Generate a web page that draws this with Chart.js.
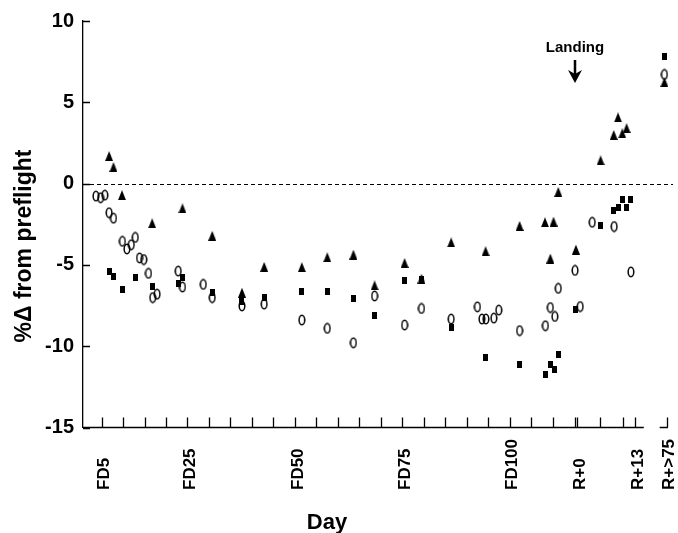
<!DOCTYPE html>
<html><head><meta charset="utf-8">
<script src="https://cdn.jsdelivr.net/npm/chart.js@4.4.0/dist/chart.umd.min.js"></script>
<style>html,body{margin:0;padding:0;background:#fff;}#wrap{width:678px;height:533px;}</style>
</head><body><div id="wrap"><canvas id="c" width="678" height="533"></canvas></div>
<script>
// ---- data (x = mission day on a continuous day axis; y = % change from preflight) ----
const triDays = [6.75,7.77,9.75,16.77,23.83,30.76,37.68,42.85,51.62,57.53,63.62,68.54,75.53,79.45,86.37,94.38,102.3,108.2,110.2,109.45,111.3,115.4,121.15,124.2,125.2,126.2,127.2,136.0];
const triVals = [1.69,1.02,-0.71,-2.44,-1.52,-3.21,-6.71,-5.12,-5.14,-4.53,-4.37,-6.26,-4.88,-5.85,-3.62,-4.16,-2.60,-2.38,-2.34,-4.61,-0.51,-4.06,1.43,2.99,4.07,3.09,3.41,6.24];
const circDays = [3.69,4.77,5.76,6.75,7.77,9.85,10.9,11.92,12.85,13.84,14.83,15.92,16.91,17.92,22.84,23.83,28.68,30.76,37.68,42.85,51.62,57.53,63.62,68.54,75.53,79.45,86.37,92.47,93.53,94.45,96.3,97.45,102.3,108.3,109.45,110.5,111.3,115.2,116.4,119.2,124.3,128.2,136.0];
const circVals = [-0.77,-0.87,-0.71,-1.79,-2.13,-3.55,-4.02,-3.76,-3.31,-4.57,-4.67,-5.52,-7.01,-6.80,-5.38,-6.36,-6.20,-7.01,-7.52,-7.41,-8.39,-8.90,-9.79,-6.91,-8.70,-7.68,-8.33,-7.58,-8.33,-8.33,-8.27,-7.78,-9.04,-8.74,-7.62,-8.17,-6.44,-5.34,-7.56,-2.38,-2.64,-5.43,6.71];
const sqDays = [6.75,7.77,9.85,12.85,16.77,22.84,23.83,30.76,37.68,42.85,51.62,57.53,63.62,68.54,75.53,79.45,86.37,94.45,102.3,108.3,109.45,110.4,111.4,115.4,121.15,124.2,125.2,127.2,126.2,128.1,136.0];
const sqVals = [-5.38,-5.69,-6.50,-5.79,-6.30,-6.16,-5.79,-6.71,-7.26,-7.01,-6.66,-6.66,-7.07,-8.13,-5.99,-5.87,-8.84,-10.67,-11.12,-11.73,-11.12,-11.44,-10.52,-7.74,-2.58,-1.66,-1.46,-1.46,-0.95,-0.95,7.79];
const tickDays = [5,10,15,20,25,30,35,40,45,50,55,60,65,70,75,80,85,90,95,100,105,110,115.2,115.7,121.1,126.3,129.2,136.5];
const labelDays = [5,25,50,75,100,115.7,129.2,136.5];
const labelTexts = ['FD5','FD25','FD50','FD75','FD100','R+0','R+13','R+>75'];
const yTickVals = [-15,-10,-5,0,5,10];
const landingDay = 115.1;
const axisBreakFrom = 131.2, axisBreakTo = 134.9, axisEndDay = 136.8;

const FONT = '"Liberation Sans", Arial, sans-serif';

function mk(w,h,draw){const c=document.createElement('canvas');c.width=w;c.height=h;draw(c.getContext('2d'));return c;}
const triImg = mk(8,10,g=>{g.fillStyle='#000';g.beginPath();g.moveTo(4,0);g.lineTo(8,10);g.lineTo(0,10);g.closePath();g.fill();});
const circImg = mk(8,12,g=>{g.strokeStyle='#000';g.lineWidth=1.5;g.beginPath();g.ellipse(4,6,2.8,4.7,0,0,2*Math.PI);g.stroke();});
const sqImg = mk(5,7,g=>{g.fillStyle='#000';g.fillRect(0,0,5,7);});

const pts = (d,v)=>d.map((x,i)=>({x:x,y:v[i]}));

const decor = {
  id:'decor',
  beforeDatasetsDraw(chart){
    const {ctx, chartArea:a, scales:{y}} = chart;
    const py = Math.round(y.getPixelForValue(0))+0.5;
    ctx.save(); ctx.strokeStyle='#000'; ctx.lineWidth=1; ctx.setLineDash([4,3]);
    ctx.beginPath(); ctx.moveTo(a.left,py); ctx.lineTo(a.right,py); ctx.stroke(); ctx.restore();
  },
  afterDraw(chart){
    const {ctx, chartArea:a, scales:{x,y}} = chart;
    const by = y.getPixelForValue(-15);
    ctx.save();
    ctx.strokeStyle='#000'; ctx.lineWidth=1.3;
    ctx.beginPath();
    ctx.moveTo(a.left, by); ctx.lineTo(x.getPixelForValue(axisBreakFrom), by);
    ctx.moveTo(x.getPixelForValue(axisBreakTo), by); ctx.lineTo(x.getPixelForValue(axisEndDay), by);
    tickDays.forEach(d=>{const px=Math.round(x.getPixelForValue(d))+0.5; ctx.moveTo(px,by); ctx.lineTo(px,by-10);});
    // inward y ticks
    yTickVals.forEach(v=>{const py=Math.round(y.getPixelForValue(v))+0.5; ctx.moveTo(a.left,py); ctx.lineTo(a.left+7,py);});
    ctx.stroke();
    // rotated tick labels
    ctx.fillStyle='#000';
    ctx.font='bold 17px '+FONT;
    ctx.textAlign='left'; ctx.textBaseline='middle';
    labelDays.forEach((d,i)=>{
      ctx.save(); ctx.translate(x.getPixelForValue(d)+3, 490); ctx.rotate(-Math.PI/2);
      ctx.fillText(labelTexts[i],0,0); ctx.restore();
    });
    // axis titles
    ctx.font='bold 22px '+FONT; ctx.textAlign='center'; ctx.textBaseline='middle';
    ctx.fillText('Day', 327, 523);
    ctx.font='bold 23px '+FONT;
    ctx.save(); ctx.translate(25, 246); ctx.rotate(-Math.PI/2);
    ctx.fillText('%\u0394 from preflight',0,0); ctx.restore();
    // landing annotation
    const lx = Math.round(x.getPixelForValue(landingDay));
    ctx.font='bold 15px '+FONT; ctx.textBaseline='middle';
    ctx.fillText('Landing', lx, 48);
    ctx.lineWidth=2.5;
    ctx.beginPath(); ctx.moveTo(lx,60); ctx.lineTo(lx,74); ctx.stroke();
    ctx.beginPath(); ctx.moveTo(lx-7,70); ctx.lineTo(lx,83); ctx.lineTo(lx+7,70); ctx.lineTo(lx,74); ctx.closePath(); ctx.fill();
    ctx.restore();
  }
};

new Chart(document.getElementById('c'), {
  type:'scatter',
  data:{datasets:[
    {label:'sq', data:pts(sqDays,sqVals), pointStyle:sqImg, pointRadius:3, backgroundColor:'#000', borderColor:'#000'},
    {label:'circ', data:pts(circDays,circVals), pointStyle:circImg, pointRadius:4, backgroundColor:'#000', borderColor:'#000'},
    {label:'tri', data:pts(triDays,triVals), pointStyle:triImg, pointRadius:4, backgroundColor:'#000', borderColor:'#000'}
  ]},
  options:{
    responsive:false, animation:false, devicePixelRatio:1,
    layout:{padding:{top:17,left:0,right:0,bottom:0}},
    plugins:{legend:{display:false}, tooltip:{enabled:false}},
    scales:{
      x:{type:'linear', min:0.68, max:138,
         ticks:{display:false}, grid:{display:false}, border:{display:false},
         afterFit(s){s.height=105.5;}},
      y:{type:'linear', min:-15, max:10,
         afterBuildTicks(s){s.ticks=yTickVals.map(v=>({value:v}));},
         ticks:{color:'#000', font:{family:FONT, weight:'bold', size:20}, padding:9},
         grid:{drawOnChartArea:false, drawTicks:false},
         border:{display:true, color:'#000', width:1.3},
         afterFit(s){s.width=83;}}
    }
  },
  plugins:[decor]
});
</script>
</body></html>
